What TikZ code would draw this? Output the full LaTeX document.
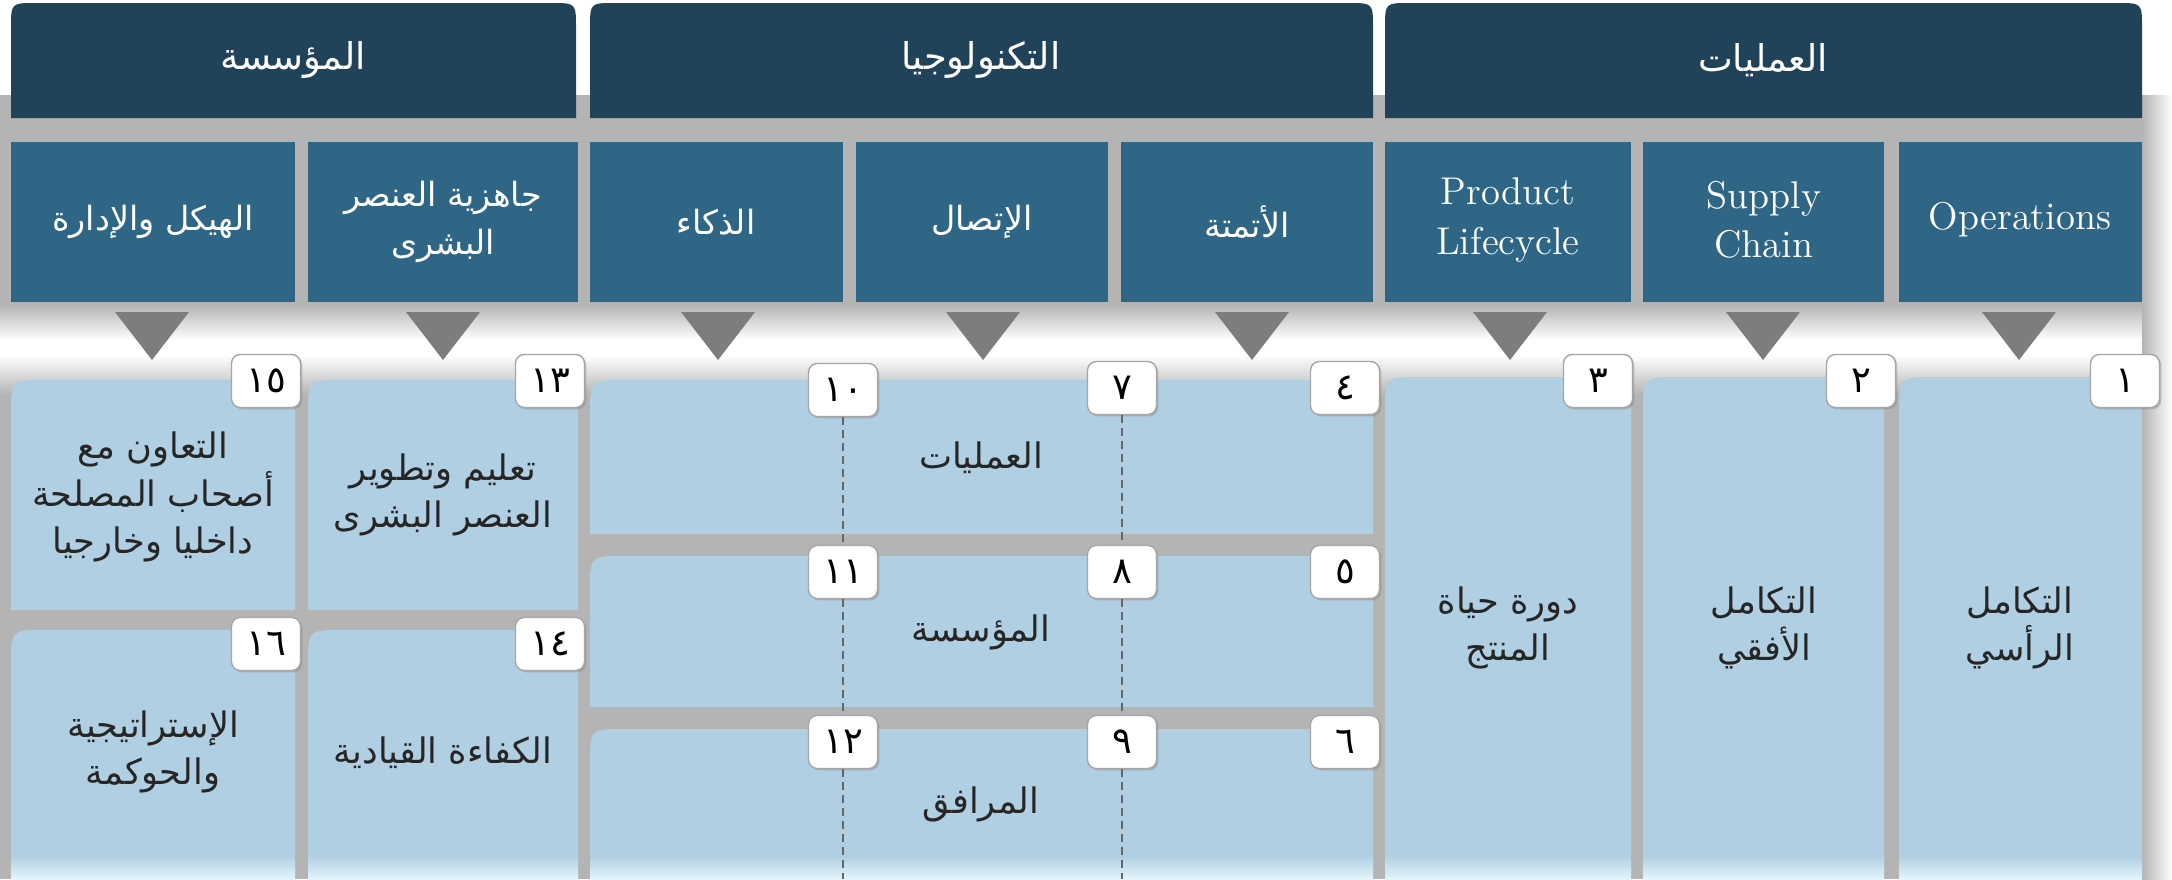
\documentclass[tikz,border=0pt]{standalone}
\usepackage{fontspec}
\usepackage{xcolor}
\usepackage{tikz}
\usetikzlibrary{shadows}
\newfontfamily\arabe[Script=Arabic]{DejaVu Sans}
\TeXXeTstate=1
\newcommand{\artxt}[1]{{\arabe\beginR #1\endR}}
\definecolor{bleuFonce}{RGB}{33,67,90}
\definecolor{bleuMoyen}{RGB}{47,102,134}
\definecolor{bleuClair}{RGB}{177,207,226}
\definecolor{bleuPale}{RGB}{228,245,252}
\definecolor{grisFleche}{RGB}{125,125,125}
\definecolor{grisFond}{RGB}{180,180,180}
\definecolor{texteFonce}{RGB}{38,38,38}
\tikzset{
  titre/.style={text=white, align=center, font=\fontsize{10.5}{14}\selectfont},
  sous/.style={text=white, align=center, font=\fontsize{9.5}{13.5}\selectfont},
  anglais/.style={text=white, align=center, font=\fontsize{11}{14}\selectfont},
  contenu/.style={text=texteFonce, align=center, font=\fontsize{10}{13.5}\selectfont},
  numero/.style={draw=gray!70, fill=white, rounded corners=2.5pt, minimum width=6.9mm,
    minimum height=5.3mm, inner sep=0pt, font=\arabe\fontsize{10.5}{10}\selectfont,
    drop shadow={shadow xshift=0.5pt, shadow yshift=-0.5pt, opacity=0.4}},
  pointille/.style={dash pattern=on 2.3pt off 1.4pt, gray!80!black, line width=0.3pt}
}

\begin{document}
\begin{tikzpicture}[x=0.1mm, y=-0.1mm]
    \useasboundingbox (0,0) rectangle (2172,879);

    % Fond blanc et gris
    \fill[white] (0,0) rectangle (2172,879);
    \fill[grisFond] (0,95) rectangle (2172,305);
    \shade[top color=grisFond, bottom color=white] (0,305) rectangle (2172,340);
    \shade[top color=white, bottom color=grisFond] (0,355) rectangle (2172,395);
    \fill[grisFond] (0,395) rectangle (2172,879);
    \shade[left color=grisFond, right color=white] (2142,95) rectangle (2172,879);

    % Entetes
    \fill[bleuFonce] (11,118) -- (11,28) .. controls (11,3) .. (36,3) -- (551,3) .. controls (576,3) .. (576,28) -- (576,118) -- cycle;
    \fill[bleuFonce] (590,118) -- (590,28) .. controls (590,3) .. (615,3) -- (1348,3) .. controls (1373,3) .. (1373,28) -- (1373,118) -- cycle;
    \fill[bleuFonce] (1385,118) -- (1385,28) .. controls (1385,3) .. (1410,3) -- (2117,3) .. controls (2142,3) .. (2142,28) -- (2142,118) -- cycle;

    % Deuxieme rangee
    \fill[bleuMoyen] (11,142) rectangle (295,302);
    \fill[bleuMoyen] (308,142) rectangle (578,302);
    \fill[bleuMoyen] (590,142) rectangle (843,302);
    \fill[bleuMoyen] (856,142) rectangle (1108,302);
    \fill[bleuMoyen] (1121,142) rectangle (1373,302);
    \fill[bleuMoyen] (1385,142) rectangle (1631,302);
    \fill[bleuMoyen] (1643,142) rectangle (1884,302);
    \fill[bleuMoyen] (1899,142) rectangle (2142,302);

    % Triangles
    \fill[grisFleche] (115,312) -- (189,312) -- (152,360) -- cycle;
    \fill[grisFleche] (406,312) -- (480,312) -- (443,360) -- cycle;
    \fill[grisFleche] (681,312) -- (755,312) -- (718,360) -- cycle;
    \fill[grisFleche] (946,312) -- (1020,312) -- (983,360) -- cycle;
    \fill[grisFleche] (1215,312) -- (1289,312) -- (1252,360) -- cycle;
    \fill[grisFleche] (1473,312) -- (1547,312) -- (1510,360) -- cycle;
    \fill[grisFleche] (1726,312) -- (1800,312) -- (1763,360) -- cycle;
    \fill[grisFleche] (1982,312) -- (2056,312) -- (2019,360) -- cycle;

    % Cases claires
    \fill[bleuClair] (11,610) -- (11,415) .. controls (11,380) .. (46,380) -- (295,380) -- (295,610) -- cycle;
    \fill[bleuClair] (11,879) -- (11,665) .. controls (11,630) .. (46,630) -- (295,630) -- (295,879) -- cycle;
    \fill[bleuClair] (308,610) -- (308,415) .. controls (308,380) .. (343,380) -- (578,380) -- (578,610) -- cycle;
    \fill[bleuClair] (308,879) -- (308,665) .. controls (308,630) .. (343,630) -- (578,630) -- (578,879) -- cycle;
    \fill[bleuClair] (590,534) -- (590,415) .. controls (590,380) .. (625,380) -- (1373,380) -- (1373,534) -- cycle;
    \fill[bleuClair] (590,707) -- (590,591) .. controls (590,556) .. (625,556) -- (1373,556) -- (1373,707) -- cycle;
    \fill[bleuClair] (590,879) -- (590,764) .. controls (590,729) .. (625,729) -- (1373,729) -- (1373,879) -- cycle;
    \fill[bleuClair] (1385,879) -- (1385,412) .. controls (1385,377) .. (1420,377) -- (1631,377) -- (1631,879) -- cycle;
    \fill[bleuClair] (1643,879) -- (1643,412) .. controls (1643,377) .. (1678,377) -- (1884,377) -- (1884,879) -- cycle;
    \fill[bleuClair] (1899,879) -- (1899,412) .. controls (1899,377) .. (1934,377) -- (2142,377) -- (2142,879) -- cycle;

    % Degrade du bas
    \shade[top color=bleuClair, bottom color=bleuPale] (11,856) rectangle (295,879);
    \shade[top color=bleuClair, bottom color=bleuPale] (308,856) rectangle (578,879);
    \shade[top color=bleuClair, bottom color=bleuPale] (590,856) rectangle (1373,879);
    \shade[top color=bleuClair, bottom color=bleuPale] (1385,856) rectangle (1631,879);
    \shade[top color=bleuClair, bottom color=bleuPale] (1643,856) rectangle (1884,879);
    \shade[top color=bleuClair, bottom color=bleuPale] (1899,856) rectangle (2142,879);

    % Numeros
    \node[numero] (n1) at (2125,381) {١};
    \node[numero] (n2) at (1861,381) {٢};
    \node[numero] (n3) at (1598,381) {٣};
    \node[numero] (n4) at (1345,388) {٤};
    \node[numero] (n5) at (1345,572) {٥};
    \node[numero] (n6) at (1345,742) {٦};
    \node[numero] (n7) at (1122,388) {٧};
    \node[numero] (n8) at (1122,572) {٨};
    \node[numero] (n9) at (1122,742) {٩};
    \node[numero] (n10) at (843,390) {١٠};
    \node[numero] (n11) at (843,572) {١١};
    \node[numero] (n12) at (843,742) {١٢};
    \node[numero] (n13) at (550,381) {١٣};
    \node[numero] (n14) at (550,644) {١٤};
    \node[numero] (n15) at (266,381) {١٥};
    \node[numero] (n16) at (266,644) {١٦};

    % Pointilles
    \coordinate (bas10) at (843,879);
    \coordinate (bas7) at (1122,879);
    \draw[pointille] (n10) -- (n11) (n11) -- (n12) (n12) -- (bas10);
    \draw[pointille] (n7) -- (n8) (n8) -- (n9) (n9) -- (bas7);

    % Titres
    \node[titre] (tOrg) at (293,60) {\artxt{المؤسسة}};
    \node[titre] (tTech) at (981,60) {\artxt{التكنولوجيا}};
    \node[titre] (tOps) at (1763,60) {\artxt{العمليات}};

    % Sous-titres
    \node[sous] (sStruct) at (153,222) {\artxt{الهيكل والإدارة}};
    \node[sous] (sHumain) at (443,222) {\artxt{جاهزية العنصر}\\\artxt{البشرى}};
    \node[sous] (sIntel) at (716,222) {\artxt{الذكاء}};
    \node[sous] (sConn) at (982,222) {\artxt{الإتصال}};
    \node[sous] (sAuto) at (1247,222) {\artxt{الأتمتة}};
    \node[anglais] (sProd) at (1508,220) {Product\\Lifecycle};
    \node[anglais] (sSupply) at (1764,220) {Supply\\Chain};
    \node[anglais] (sOper) at (2020,220) {Operations};

    % Contenus
    \node[contenu] (cCollab) at (153,497) {\artxt{التعاون مع}\\\artxt{أصحاب المصلحة}\\\artxt{داخليا وخارجيا}};
    \node[contenu] (cStrat) at (153,752) {\artxt{الإستراتيجية}\\\artxt{والحوكمة}};
    \node[contenu] (cForm) at (443,495) {\artxt{تعليم وتطوير}\\\artxt{العنصر البشرى}};
    \node[contenu] (cLeader) at (443,753) {\artxt{الكفاءة القيادية}};
    \node[contenu] (cOps) at (981,458) {\artxt{العمليات}};
    \node[contenu] (cOrg) at (981,632) {\artxt{المؤسسة}};
    \node[contenu] (cInfra) at (981,804) {\artxt{المرافق}};
    \node[contenu] (cCycle) at (1508,628) {\artxt{دورة حياة}\\\artxt{المنتج}};
    \node[contenu] (cHoriz) at (1764,628) {\artxt{التكامل}\\\artxt{الأفقي}};
    \node[contenu] (cVert) at (2020,628) {\artxt{التكامل}\\\artxt{الرأسي}};
\end{tikzpicture}
\end{document}
